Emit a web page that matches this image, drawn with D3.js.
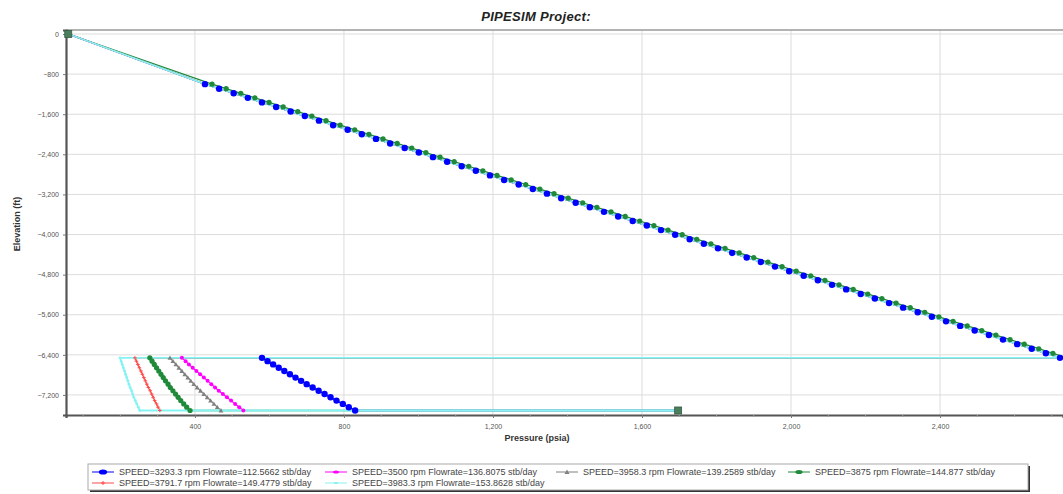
<!DOCTYPE html>
<html>
<head>
<meta charset="utf-8">
<script src="https://cdn.jsdelivr.net/npm/d3@7"></script>
<style>
  html, body { margin: 0; padding: 0; background: #fff; }
  svg { display: block; font-family: "Liberation Sans", Arial, sans-serif; }
</style>
</head>
<body>
<svg id="chart" width="1063" height="494"></svg>
<script>
// ---- data -------------------------------------------------------------
// Tubing nodes (wellhead down to pump discharge)
const tubingElevation = [0, -1000, -1091, -1182, -1273, -1364, -1455, -1546, -1637, -1728, -1819,
  -1910, -2001, -2092, -2183, -2274, -2365, -2456, -2547, -2638, -2729, -2820, -2911, -3002, -3093,
  -3184, -3275, -3366, -3457, -3548, -3639, -3730, -3821, -3912, -4003, -4094, -4185, -4276, -4367,
  -4458, -4549, -4640, -4731, -4822, -4913, -5004, -5095, -5186, -5277, -5368, -5459, -5550, -5641,
  -5732, -5823, -5914, -6005, -6096, -6187, -6278, -6369, -6460];
const tubingPressure = [60, 427, 465, 504, 542, 580, 618, 657, 695, 733, 771, 810, 848, 886, 924,
  963, 1001, 1039, 1077, 1116, 1154, 1192, 1230, 1269, 1307, 1345, 1383, 1422, 1460, 1498, 1536,
  1575, 1613, 1651, 1689, 1728, 1766, 1804, 1842, 1881, 1919, 1957, 1995, 2034, 2072, 2110, 2148,
  2187, 2225, 2263, 2301, 2340, 2378, 2416, 2454, 2493, 2531, 2569, 2607, 2646, 2684, 2722];
const tubingPressureGreen = [60, 446, 484, 523, 561, 599, 637, 676, 714, 752, 790, 829, 867, 905, 943,
  982, 1020, 1058, 1096, 1135, 1173, 1211, 1249, 1288, 1326, 1364, 1402, 1441, 1479, 1517, 1555,
  1594, 1632, 1670, 1708, 1747, 1785, 1823, 1861, 1900, 1938, 1976, 2014, 2053, 2091, 2129, 2167,
  2206, 2244, 2282, 2320, 2359, 2397, 2435, 2473, 2512, 2550, 2588, 2626, 2665, 2703, 2741];

// Casing nodes below the pump (pump intake down to sandface)
const casingElevation = [-6460, -6526, -6591, -6657, -6722, -6788, -6854, -6919, -6985, -7051,
  -7116, -7182, -7247, -7313, -7379, -7444, -7510];
const reservoirPressure = 1697;

const seriesNames = [
  "SPEED=3293.3 rpm Flowrate=112.5662 stb/day",
  "SPEED=3500 rpm Flowrate=136.8075 stb/day",
  "SPEED=3958.3 rpm Flowrate=139.2589 stb/day",
  "SPEED=3875 rpm Flowrate=144.877 stb/day",
  "SPEED=3791.7 rpm Flowrate=149.4779 stb/day",
  "SPEED=3983.3 rpm Flowrate=153.8628 stb/day"
];
const casingBlue    = [580, 595, 610, 625, 640, 655, 670, 685, 700, 716, 732, 748, 764, 780, 797, 813, 830];
const casingMagenta = [365, 375, 384, 394, 404, 414, 424, 434, 444, 454, 464, 475, 486, 497, 508, 519, 530];
const casingGray    = [333, 341, 349, 357, 365, 373, 381, 389, 397, 406, 415, 424, 433, 442, 451, 460, 470];
const casingGreen   = [279, 285, 291, 297, 303, 309, 315, 321, 328, 334, 341, 348, 355, 362, 370, 378, 387];
const casingRed     = [239, 243, 247, 251, 255, 259, 263, 267, 271, 275, 280, 284, 288, 292, 297, 301, 306];
const casingCyan    = [199, 202, 205, 208, 211, 214, 217, 220, 223, 226, 230, 233, 236, 240, 244, 248, 252];

const xTicks = [400, 800, 1200, 1600, 2000, 2400];
const yTicks = [0, -800, -1600, -2400, -3200, -4000, -4800, -5600, -6400, -7200];

// ---- styles per series ------------------------------------------------
const styles = [
  { color: "#0000ff", marker: "circle",   size: 3.2, width: 1.4 },
  { color: "#ff00ff", marker: "circle",   size: 2.0, width: 1.2 },
  { color: "#808080", marker: "triangle", size: 2.4, width: 1.2 },
  { color: "#1f8a3a", marker: "circle",   size: 2.6, width: 1.3 },
  { color: "#ff4a4a", marker: "cross",    size: 1.8, width: 1.2 },
  { color: "#86f3f3", marker: "dot",      size: 1.4, width: 1.8 }
];
const casingData = [casingBlue, casingMagenta, casingGray, casingGreen, casingRed, casingCyan];
const tubingData = [tubingPressure, tubingPressure, tubingPressure, tubingPressureGreen, tubingPressure, tubingPressure];

// Each profile: tubing, pump jump, casing, then along to reservoir pressure
const profiles = casingData.map((casing, s) => {
  const pts = tubingData[s].map((p, i) => ({ p, z: tubingElevation[i], part: "tubing" }));
  casing.forEach((p, i) => pts.push({ p, z: casingElevation[i], part: "casing" }));
  pts.push({ p: reservoirPressure, z: casingElevation[casingElevation.length - 1], end: true });
  return pts;
});

// ---- layout -----------------------------------------------------------
const svg = d3.select("#chart");
const plot = { left: 66, top: 30, right: 1063, bottom: 415 };

const x = d3.scaleLinear().domain([54, 2730]).range([plot.left, plot.right]);
const y = d3.scaleLinear().domain([-7600, 80]).range([plot.bottom, plot.top]);

svg.append("clipPath").attr("id", "plotClip").append("rect")
  .attr("x", plot.left - 6).attr("y", plot.top - 6)
  .attr("width", plot.right - plot.left + 6).attr("height", plot.bottom - plot.top + 12);

// grid
const grid = svg.append("g");
grid.selectAll("line.gx").data(xTicks).join("line")
  .attr("x1", d => x(d)).attr("x2", d => x(d))
  .attr("y1", plot.top).attr("y2", plot.bottom)
  .attr("stroke", "#dcdcdc").attr("stroke-width", 1);
grid.selectAll("line.gy").data(yTicks).join("line")
  .attr("x1", plot.left).attr("x2", plot.right)
  .attr("y1", d => y(d)).attr("y2", d => y(d))
  .attr("stroke", "#dcdcdc").attr("stroke-width", 1);

// top frame
svg.append("line").attr("x1", plot.left).attr("x2", plot.right)
  .attr("y1", plot.top).attr("y2", plot.top).attr("stroke", "#9a9a9a").attr("stroke-width", 1.5);

// axes
const fmt = d3.format(",");
const xAxis = svg.append("g").attr("transform", `translate(0,${plot.bottom})`)
  .call(d3.axisBottom(x).tickValues(xTicks).tickFormat(fmt).tickSize(3).tickPadding(6));
const yAxis = svg.append("g").attr("transform", `translate(${plot.left},0)`)
  .call(d3.axisLeft(y).tickValues(yTicks).tickFormat(fmt).tickSize(3).tickPadding(4));
[xAxis, yAxis].forEach(g => {
  g.select(".domain").attr("stroke", "#555").attr("stroke-width", 2.2);
  g.selectAll(".tick line").attr("stroke", "#777");
  g.selectAll(".tick text").attr("fill", "#555").style("font-size", "7px");
});
// minor ticks on the x axis
svg.append("g").selectAll("line").data(d3.range(100, 2730, 100).filter(v => v % 400 !== 0 && v > 54))
  .join("line")
  .attr("x1", d => x(d)).attr("x2", d => x(d))
  .attr("y1", plot.bottom).attr("y2", plot.bottom + 2)
  .attr("stroke", "#999");

const series = svg.append("g").attr("clip-path", "url(#plotClip)");

// ---- series lines -----------------------------------------------------
const line = d3.line().x(d => x(d.p)).y(d => y(d.z));
const lineOrder = [0, 1, 2, 3, 4, 5];
series.append("g").selectAll("path").data(lineOrder).join("path")
  .attr("d", i => line(profiles[i]))
  .attr("fill", "none")
  .attr("stroke", i => styles[i].color)
  .attr("stroke-width", i => styles[i].width);

// ---- markers ----------------------------------------------------------
function drawMarkers(g, pts, st) {
  const body = pts.filter((d, k) => k > 0 && !d.end);
  if (st.marker === "circle" || st.marker === "dot") {
    g.selectAll("circle").data(st.marker === "dot" ? body.filter(d => d.part === "casing") : body)
      .join("circle")
      .attr("cx", d => x(d.p)).attr("cy", d => y(d.z)).attr("r", st.size)
      .attr("fill", st.color);
  } else if (st.marker === "triangle") {
    const s = st.size;
    g.selectAll("path").data(body).join("path")
      .attr("d", d => `M${x(d.p)},${y(d.z) - s}L${x(d.p) + s},${y(d.z) + s * 0.8}L${x(d.p) - s},${y(d.z) + s * 0.8}Z`)
      .attr("fill", st.color);
  } else if (st.marker === "cross") {
    const s = st.size;
    g.selectAll("path").data(body).join("path")
      .attr("d", d => `M${x(d.p) - s},${y(d.z)}H${x(d.p) + s}M${x(d.p)},${y(d.z) - s}V${y(d.z) + s}`)
      .attr("stroke", st.color).attr("stroke-width", 1);
  }
}
const markerOrder = [5, 4, 2, 1, 3, 0];
markerOrder.forEach(i => drawMarkers(series.append("g"), profiles[i], styles[i]));

// wellhead and sandface nodes
const nodes = [profiles[3][0], profiles[3][profiles[3].length - 1]];
svg.append("g").selectAll("rect").data(nodes).join("rect")
  .attr("x", d => x(d.p) - 3.5).attr("y", d => y(d.z) - 3.5)
  .attr("width", 7).attr("height", 7)
  .attr("fill", "#4c7e5e").attr("stroke", "#355c44").attr("stroke-width", 0.8);

// ---- titles -----------------------------------------------------------
svg.append("text").attr("x", 536).attr("y", 21).attr("text-anchor", "middle")
  .style("font-size", "13px").style("font-weight", "bold").style("font-style", "italic")
  .style("letter-spacing", "0.3px")
  .attr("fill", "#222").text("PIPESIM Project:");
svg.append("text").attr("x", 537).attr("y", 441).attr("text-anchor", "middle")
  .style("font-size", "9px").style("font-weight", "bold").attr("fill", "#333")
  .text("Pressure (psia)");
svg.append("text").attr("transform", "translate(20,224) rotate(-90)").attr("text-anchor", "middle")
  .style("font-size", "9px").style("font-weight", "bold").attr("fill", "#333")
  .text("Elevation (ft)");

// ---- legend -----------------------------------------------------------
const legend = svg.append("g");
legend.append("rect").attr("x", 90).attr("y", 466).attr("width", 940).attr("height", 26)
  .attr("fill", "#333");
legend.append("rect").attr("x", 88).attr("y", 464).attr("width", 940).attr("height", 26)
  .attr("fill", "#fff").attr("stroke", "#aaa").attr("stroke-width", 1);

const legendPos = [
  { x: 92,  y: 472 }, { x: 325, y: 472 }, { x: 556, y: 472 }, { x: 788, y: 472 },
  { x: 92,  y: 483 }, { x: 325, y: 483 }
];
legendPos.forEach((pos, i) => {
  const st = styles[i];
  const g = legend.append("g").attr("transform", `translate(${pos.x},${pos.y})`);
  g.append("line").attr("x1", 0).attr("x2", 22).attr("y1", 0).attr("y2", 0)
    .attr("stroke", st.color).attr("stroke-width", 1);
  const cx = 11;
  if (st.marker === "circle" || st.marker === "dot") {
    g.append("ellipse").attr("cx", cx).attr("cy", 0).attr("rx", st.size + 1).attr("ry", st.size * 0.8)
      .attr("fill", st.color);
  } else if (st.marker === "triangle") {
    g.append("path").attr("d", `M${cx},-2.5L${cx + 2.5},2L${cx - 2.5},2Z`).attr("fill", st.color);
  } else if (st.marker === "cross") {
    g.append("path").attr("d", `M${cx - 2},0H${cx + 2}M${cx},-2V2`).attr("stroke", st.color);
  }
  g.append("text").attr("x", 27).attr("y", 3)
    .style("font-size", "9px").attr("fill", "#444").text(seriesNames[i]);
});
</script>
</body>
</html>
